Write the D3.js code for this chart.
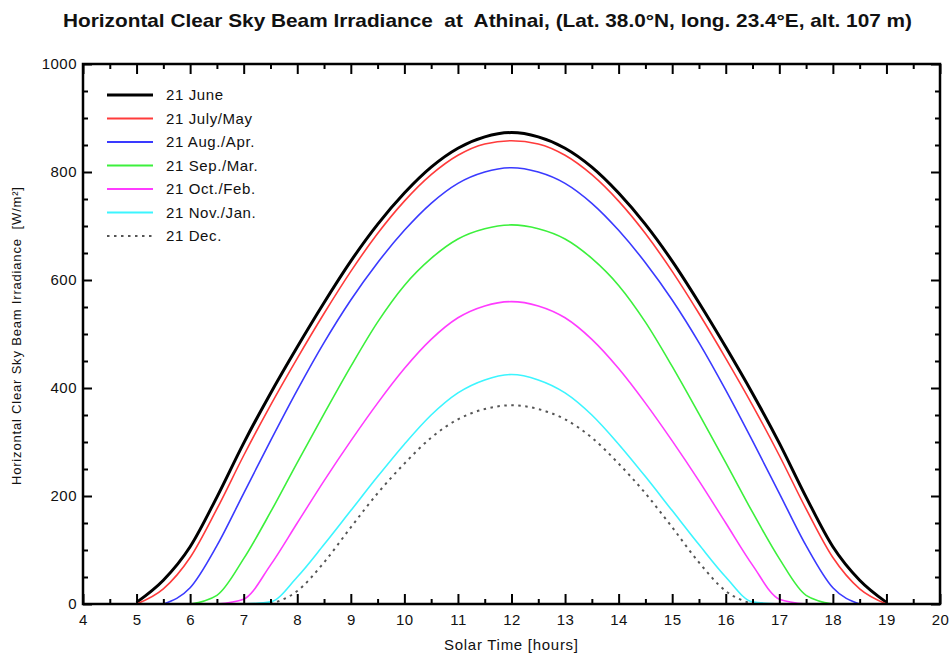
<!DOCTYPE html>
<html>
<head>
<meta charset="utf-8">
<script src="https://cdn.jsdelivr.net/npm/d3@7"></script>
<style>
  html, body { margin: 0; padding: 0; background: #fff; }
  svg { display: block; }
  text { font-family: "Liberation Sans", Arial, sans-serif; fill: #111; white-space: pre; }
</style>
</head>
<body>
<svg id="chart" width="952" height="657"></svg>
<script>
// Solar time grid (hours), shared by every curve
const hours = [4.5, 5, 5.5, 6, 6.5, 7, 7.5, 8, 8.5, 9, 9.5, 10, 10.5, 11, 11.5, 12,
               12.5, 13, 13.5, 14, 14.5, 15, 15.5, 16, 16.5, 17, 17.5, 18, 18.5, 19, 19.5];

// Horizontal beam irradiance [W/m²] per day; null = sun below horizon (not drawn)
const june    = [null, 3, 44, 106, 198, 298, 390, 476, 558, 635, 703, 761, 809, 844, 865, 873,
                 865, 844, 809, 761, 703, 635, 558, 476, 390, 298, 198, 106, 44, 3, null];
const julyMay = [null, 0, 28, 86, 176, 275, 368, 455, 538, 616, 686, 746, 795, 831, 852, 858,
                 852, 831, 795, 746, 686, 616, 538, 455, 368, 275, 176, 86, 28, 0, null];
const augApr  = [null, null, 0, 30, 108, 205, 302, 396, 484, 563, 632, 692, 742, 779, 800, 808,
                 800, 779, 742, 692, 632, 563, 484, 396, 302, 205, 108, 30, 0, null, null];
const sepMar  = [null, null, null, 0, 16, 84, 170, 262, 352, 440, 522, 590, 640, 676, 695, 702,
                 695, 676, 640, 590, 522, 440, 352, 262, 170, 84, 16, 0, null, null, null];
const octFeb  = [null, null, null, null, 0, 9, 72, 150, 228, 302, 372, 436, 490, 530, 552, 560,
                 552, 530, 490, 436, 372, 302, 228, 150, 72, 9, 0, null, null, null, null];
const novJan  = [null, null, null, null, null, 0, 4, 50, 110, 173, 236, 296, 350, 391, 415, 425,
                 415, 391, 350, 296, 236, 173, 110, 50, 4, 0, null, null, null, null, null];
const dec     = [null, null, null, null, null, null, 0, 24, 77, 142, 205, 260, 308, 342, 361, 368,
                 361, 342, 308, 260, 205, 142, 77, 24, 0, null, null, null, null, null, null];

const seriesNames = ["21 June", "21 July/May", "21 Aug./Apr.", "21 Sep./Mar.",
                     "21 Oct./Feb.", "21 Nov./Jan.", "21 Dec."];
const seriesValues = [june, julyMay, augApr, sepMar, octFeb, novJan, dec];
const seriesColors = ["#000000", "#ff3b3b", "#3a3aff", "#3cf03c", "#ff3cff", "#3cf5ff", "#555555"];
const seriesWidths = [3, 1.6, 1.6, 1.6, 1.6, 1.6, 2];
const seriesDash   = [null, null, null, null, null, null, "2.5,4.5"];

const xTicks = d3.range(4, 20.001, 1);
const xMinor = d3.range(4.5, 20, 1);
const yTicks = [0, 200, 400, 600, 800, 1000];
const yMinor = d3.range(50, 1000, 50).filter(v => v % 200 !== 0);

const titleText = "Horizontal Clear Sky Beam Irradiance  at  Athinai, (Lat. 38.0°N, long. 23.4°E, alt. 107 m)";
const xTitle = "Solar Time [hours]";
const yTitle = "Horizontal Clear Sky Beam Irradiance  [W/m²]";

const svg = d3.select("#chart");
const L = 83, R = 940, T = 64, B = 604;

const x = d3.scaleLinear().domain([4, 20]).range([L, R]);
const y = d3.scaleLinear().domain([0, 1000]).range([B, T]);

// Title
svg.append("text")
  .attr("x", 63).attr("y", 27)
  .attr("textLength", 849).attr("lengthAdjust", "spacingAndGlyphs")
  .style("font-family", "'Liberation Sans Narrow', 'Liberation Sans', Arial, sans-serif")
  .style("font-weight", "bold").style("font-size", "19px")
  .text(titleText);

// Curves
const line = d3.line()
  .defined(d => d[1] !== null)
  .x(d => x(d[0])).y(d => y(d[1]))
  .curve(d3.curveMonotoneX);

const plot = svg.append("g");
seriesValues.forEach((vals, i) => {
  const pts = hours.map((h, k) => [h, vals[k]]);
  plot.append("path")
    .datum(pts)
    .attr("d", line)
    .attr("fill", "none")
    .attr("stroke", seriesColors[i])
    .attr("stroke-width", seriesWidths[i])
    .attr("stroke-linejoin", "round")
    .attr("stroke-dasharray", seriesDash[i]);
});

// Axes: ticks on all four sides pointing into the plot
function styleAxis(g) {
  g.select(".domain").remove();
  g.selectAll(".tick line").attr("stroke", "#000").attr("stroke-width", 2);
  g.selectAll("text").style("font-family", "'Liberation Sans', Arial, sans-serif")
    .style("font-size", "15px").style("letter-spacing", "0.5px").attr("fill", "#222");
}

svg.append("g").attr("transform", `translate(0,${B})`)
  .call(d3.axisBottom(x).tickValues(xTicks).tickSize(-10).tickPadding(10).tickFormat(d3.format("d")))
  .call(styleAxis);
svg.append("g").attr("transform", `translate(0,${B})`)
  .call(d3.axisBottom(x).tickValues(xMinor).tickSize(-5).tickFormat(""))
  .call(styleAxis);
svg.append("g").attr("transform", `translate(0,${T})`)
  .call(d3.axisTop(x).tickValues(xTicks).tickSize(-10).tickFormat(""))
  .call(styleAxis);
svg.append("g").attr("transform", `translate(0,${T})`)
  .call(d3.axisTop(x).tickValues(xMinor).tickSize(-5).tickFormat(""))
  .call(styleAxis);

svg.append("g").attr("transform", `translate(${L},0)`)
  .call(d3.axisLeft(y).tickValues(yTicks).tickSize(-9).tickPadding(6).tickFormat(d3.format("d")))
  .call(styleAxis);
svg.append("g").attr("transform", `translate(${L},0)`)
  .call(d3.axisLeft(y).tickValues(yMinor).tickSize(-5).tickFormat(""))
  .call(styleAxis);
svg.append("g").attr("transform", `translate(${R},0)`)
  .call(d3.axisRight(y).tickValues(yTicks).tickSize(-9).tickFormat(""))
  .call(styleAxis);
svg.append("g").attr("transform", `translate(${R},0)`)
  .call(d3.axisRight(y).tickValues(yMinor).tickSize(-5).tickFormat(""))
  .call(styleAxis);

// Frame
svg.append("rect")
  .attr("x", L).attr("y", T).attr("width", R - L).attr("height", B - T)
  .attr("fill", "none").attr("stroke", "#000").attr("stroke-width", 2.5);

// Axis titles
svg.append("text")
  .attr("x", 444).attr("y", 650)
  .attr("textLength", 134).attr("lengthAdjust", "spacing")
  .style("font-size", "15px")
  .text(xTitle);
svg.append("text")
  .attr("transform", "translate(21,485) rotate(-90)")
  .attr("textLength", 298).attr("lengthAdjust", "spacing")
  .style("font-size", "13px")
  .text(yTitle);

// Legend
const legend = svg.append("g");
seriesNames.forEach((name, i) => {
  const ly = 95 + i * 23.5;
  legend.append("line")
    .attr("x1", 107).attr("x2", 153).attr("y1", ly).attr("y2", ly)
    .attr("stroke", seriesColors[i])
    .attr("stroke-width", i === 0 ? 3 : 2)
    .attr("stroke-dasharray", seriesDash[i]);
  legend.append("text")
    .attr("x", 166).attr("y", ly + 5)
    .style("font-size", "15px").style("letter-spacing", "0.6px")
    .text(name);
});
</script>
</body>
</html>
